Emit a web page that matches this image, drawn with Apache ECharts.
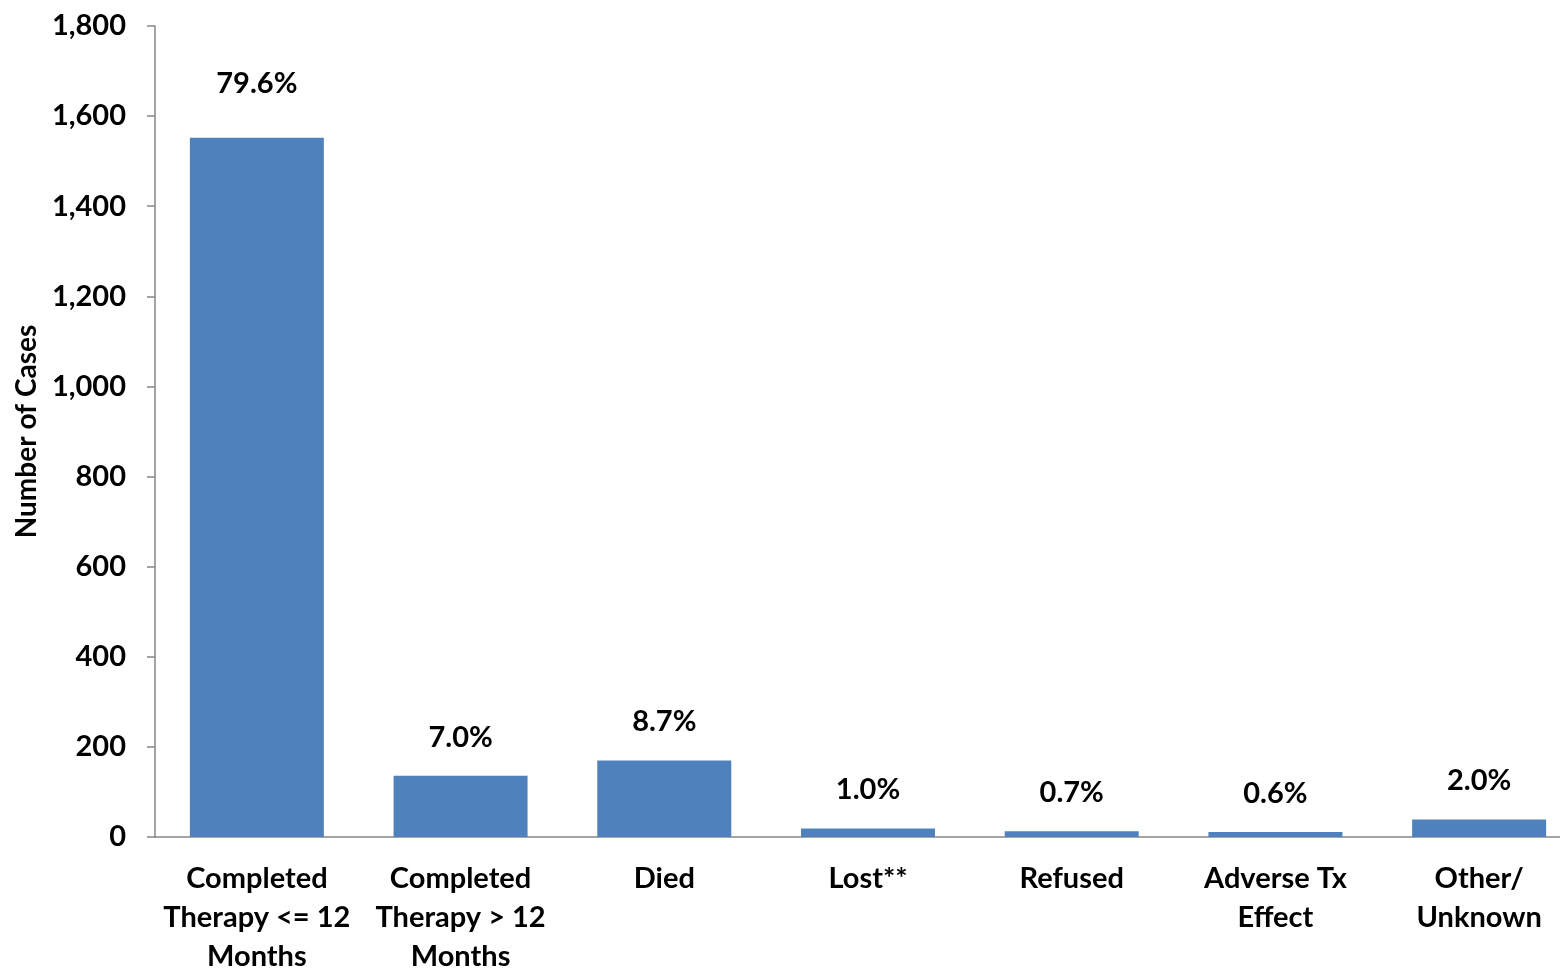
<!DOCTYPE html>
<html>
<head>
<meta charset="utf-8">
<script src="https://cdn.jsdelivr.net/npm/echarts@6/dist/echarts.min.js"></script>
<style>html,body{margin:0;padding:0;background:#fff;overflow:hidden;}#c{width:1560px;height:971px;}</style>
</head>
<body>
<div id="c"></div>
<script>
const categories = ['Completed\nTherapy <= 12\nMonths', 'Completed\nTherapy > 12\nMonths', 'Died', 'Lost**', 'Refused', 'Adverse Tx\nEffect', 'Other/\nUnknown'];
const cases = [1552, 136, 170, 19, 13, 11, 39];
const percentLabels = ['79.6%', '7.0%', '8.7%', '1.0%', '0.7%', '0.6%', '2.0%'];
const yTicks = [0, 200, 400, 600, 800, 1000, 1200, 1400, 1600, 1800];

const FONT = 'Lato, "Liberation Sans", sans-serif';
const chart = echarts.init(document.getElementById('c'));
const data = cases.map((v, i) => {
  const item = { value: v };
  if (i === 0) item.label = { distance: 40 };
  return item;
});
chart.setOption({
  animation: false,
  grid: { left: 155, top: 26, bottom: 134, right: -21, containLabel: false, outerBoundsMode: 'none' },
  xAxis: {
    type: 'category',
    data: categories,
    axisLine: { show: true, lineStyle: { color: '#868686', width: 1.5 } },
    axisTick: { show: false },
    axisLabel: { interval: 0, margin: 22, color: '#000', fontFamily: FONT, fontWeight: 'bold', fontSize: 29, lineHeight: 39 }
  },
  yAxis: {
    type: 'value',
    min: yTicks[0],
    max: yTicks[yTicks.length - 1],
    interval: 200,
    name: 'Number of Cases',
    nameLocation: 'middle',
    nameGap: 112,
    nameRotate: 90,
    nameTextStyle: { color: '#000', fontFamily: FONT, fontWeight: 'bold', fontSize: 28 },
    axisLine: { show: true, lineStyle: { color: '#868686', width: 1.5 } },
    axisTick: { show: true, inside: false, length: 8, lineStyle: { color: '#868686', width: 1.5 } },
    splitLine: { show: false },
    axisLabel: {
      margin: 29, color: '#000', fontFamily: FONT, fontWeight: 'bold', fontSize: 29,
      formatter: v => v.toLocaleString('en-US')
    }
  },
  series: [{
    type: 'bar',
    data: data,
    barWidth: 134,
    itemStyle: { color: '#4F81BD' },
    label: {
      show: true, position: 'top', distance: 24,
      color: '#000', fontFamily: FONT, fontWeight: 'bold', fontSize: 29,
      formatter: p => percentLabels[p.dataIndex]
    }
  }]
});
</script>
</body>
</html>
